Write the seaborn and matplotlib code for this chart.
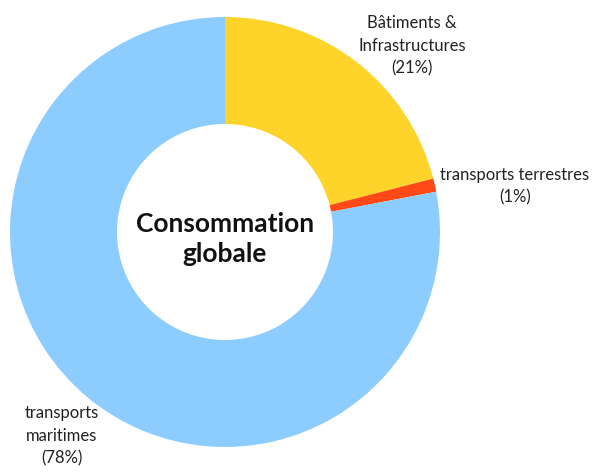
import matplotlib
matplotlib.use("Agg")
import matplotlib.pyplot as plt
import seaborn as sns

sns.set_theme(style="white")
plt.rcParams["font.family"] = ["Lato", "DejaVu Sans"]

# Parts of total consumption (%)
categories = ["Bâtiments &\nInfrastructures", "transports terrestres", "transports\nmaritimes"]
shares = [21, 1, 78]
colors = ["#FFD42A", "#FF4A17", "#8CCCFF"]

fig = plt.figure(figsize=(5.95, 4.72), dpi=100)
ax = fig.add_axes([0, 0, 1, 1])
ax.axis("off")

ax.pie(shares, colors=colors, startangle=90, counterclock=False,
       center=(225, 240), radius=215,
       wedgeprops=dict(width=107, linewidth=0))
ax.set_xlim(0, 595)
ax.set_ylim(0, 472)
ax.set_aspect("equal")

label_pos = [(412, 426), (515, 286), (62, 36)]
for name, val, (x, y) in zip(categories, shares, label_pos):
    ax.text(x, y, f"{name}\n({val}%)", ha="center", va="center",
            fontsize=12, color="#222222", linespacing=1.5)

ax.text(225, 233, "Consommation\nglobale", ha="center", va="center",
        fontsize=19, fontweight="bold", color="#111111", linespacing=1.25)

fig.savefig("out.png", dpi=100)
